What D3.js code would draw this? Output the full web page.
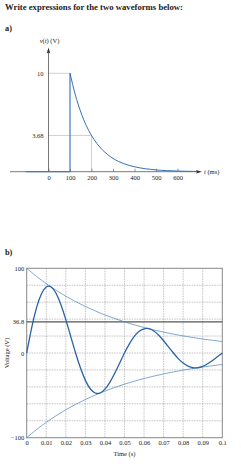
<!DOCTYPE html>
<html>
<head>
<meta charset="utf-8">
<script src="https://cdn.jsdelivr.net/npm/d3@7"></script>
<style>
  html, body { margin: 0; padding: 0; background: #fff; }
  svg { display: block; }
  text { font-family: "Liberation Serif", "DejaVu Serif", serif; fill: #222; }
</style>
</head>
<body>
<svg id="chart" width="241" height="467"></svg>
<script>
// ---------- Data: part a ----------
const stepTimeA = [-105, 100, 100];
const stepValueA = [0, 0, 10];
const decayTimeA = [100,125,150,175,200,225,250,275,300,325,350,375,400,425,450,475,500,525,550,575,600,625,650,675,690];
const decayValueA = [10,7.79,6.07,4.72,3.68,2.87,2.23,1.74,1.35,1.05,0.82,0.64,0.50,0.39,0.30,0.24,0.18,0.14,0.11,0.09,0.07,0.05,0.04,0.03,0.02];
const xTicksA = [0,100,200,300,400,500,600];
const yTicksA = [10, 3.68];
const yTickLabelsA = ["10", "3.68"];

// ---------- Data: part b ----------
const timeB = [0,0.0025,0.005,0.0075,0.01,0.0125,0.015,0.0175,0.02,0.0225,0.025,0.0275,0.03,0.0325,0.035,0.0375,0.04,0.0425,0.045,0.0475,0.05,0.0525,0.055,0.0575,0.06,0.0625,0.065,0.0675,0.07,0.0725,0.075,0.0775,0.08,0.0825,0.085,0.0875,0.09,0.0925,0.095,0.0975,0.1];
const voltageB = [0,29.4,53.2,69.6,77.9,77.9,70.5,57.0,39.4,19.7,0,-17.8,-32.3,-42.2,-47.2,-47.2,-42.7,-34.6,-23.9,-12.0,0,10.8,19.6,25.6,28.6,28.7,25.9,21.0,14.5,7.2,0,-6.6,-11.9,-15.5,-17.4,-17.4,-15.7,-12.7,-8.8,-4.4,0];
const envTimeB = [0,0.005,0.01,0.015,0.02,0.025,0.03,0.035,0.04,0.045,0.05,0.055,0.06,0.065,0.07,0.075,0.08,0.085,0.09,0.095,0.1];
const envUpperB = [100,90.5,81.9,74.1,67.0,60.7,54.9,49.7,44.9,40.7,36.8,33.3,30.1,27.3,24.7,22.3,20.2,18.3,16.5,15.0,13.5];
const envLowerB = [-100,-90.5,-81.9,-74.1,-67.0,-60.7,-54.9,-49.7,-44.9,-40.7,-36.8,-33.3,-30.1,-27.3,-24.7,-22.3,-20.2,-18.3,-16.5,-15.0,-13.5];
const xTicksB = [0,0.01,0.02,0.03,0.04,0.05,0.06,0.07,0.08,0.09,0.1];
const xTickLabelsB = ["0","0.01","0.02","0.03","0.04","0.05","0.06","0.07","0.08","0.09","0.1"];
const yTicksB = [100, 36.8, 0, -100];
const yTickLabelsB = ["100", "36.8", "0", "\u2212100"];
const yGridB = [80,60,40,20,0,-20,-40,-60,-80];

const svg = d3.select("#chart");
svg.append("rect").attr("width", 241).attr("height", 467).attr("fill", "#fff");

// ---------- Headings ----------
svg.append("text").attr("x", 5).attr("y", 9.5)
  .attr("font-size", 8.3).attr("font-weight", "bold").attr("fill", "#111")
  .attr("textLength", 178).attr("lengthAdjust", "spacingAndGlyphs")
  .text("Write expressions for the two waveforms below:");
svg.append("text").attr("x", 5).attr("y", 31).attr("font-size", 8.3)
  .attr("font-weight", "bold").attr("fill", "#111").text("a)");
svg.append("text").attr("x", 5).attr("y", 255).attr("font-size", 8.3)
  .attr("font-weight", "bold").attr("fill", "#1a1a50").text("b)");

// ---------- Part a ----------
const xA = d3.scaleLinear().domain([0, 600]).range([48.5, 177.5]);
const yA = d3.scaleLinear().domain([0, 10]).range([171.7, 73.3]);
const gA = svg.append("g");
const axisCol = "#555";

// dotted guides
const guide = (x1, y1, x2, y2) => gA.append("line")
  .attr("x1", x1).attr("y1", y1).attr("x2", x2).attr("y2", y2)
  .attr("stroke", "#666").attr("stroke-width", 0.6).attr("stroke-dasharray", "1,1");
guide(xA(0), yA(10), xA(100), yA(10));
guide(xA(0), yA(3.68), xA(200), yA(3.68));
guide(xA(200), yA(3.68), xA(200), yA(0));

// x axis (ticks via d3 axis)
const axA = d3.axisBottom(xA).tickValues(xTicksA).tickSize(-3).tickPadding(4)
  .tickFormat(d3.format("d"));
const gxA = gA.append("g").attr("transform", `translate(0,${yA(0)})`).call(axA);
gxA.select(".domain").remove();
gxA.selectAll(".tick line").attr("stroke", axisCol).attr("stroke-width", 0.6);
gxA.selectAll(".tick text").attr("font-size", 6.5).attr("font-family", "Liberation Serif, serif").attr("fill", "#333");
gA.append("line").attr("x1", 10).attr("x2", 199).attr("y1", yA(0)).attr("y2", yA(0))
  .attr("stroke", axisCol).attr("stroke-width", 0.8);
gA.append("path").attr("d", `M202,${yA(0)} L196,${yA(0)-1.8} L197,${yA(0)} L196,${yA(0)+1.8} Z`).attr("fill", "#333");

// y axis
const ayA = d3.axisLeft(yA).tickValues(yTicksA).tickSize(0).tickPadding(5)
  .tickFormat((d, i) => yTickLabelsA[i]);
const gyA = gA.append("g").attr("transform", `translate(${xA(0)},0)`).call(ayA);
gyA.select(".domain").remove();
gyA.selectAll(".tick text").attr("font-size", 6.5).attr("font-family", "Liberation Serif, serif").attr("fill", "#333");
gA.append("line").attr("x1", xA(0)).attr("x2", xA(0)).attr("y1", yA(0)).attr("y2", 50)
  .attr("stroke", axisCol).attr("stroke-width", 0.8);
gA.append("path").attr("d", `M${xA(0)},47.5 L${xA(0)-1.8},53.5 L${xA(0)},52.5 L${xA(0)+1.8},53.5 Z`).attr("fill", "#333");

// axis labels
const vl = gA.append("text").attr("x", xA(0) + 1).attr("y", 42.5).attr("text-anchor", "middle")
  .attr("font-size", 6.5).attr("fill", "#333");
vl.append("tspan").attr("font-style", "italic").text("v");
vl.append("tspan").text("(");
vl.append("tspan").attr("font-style", "italic").text("t");
vl.append("tspan").text(") (V)");
const tl = gA.append("text").attr("x", 204).attr("y", yA(0) + 2.2)
  .attr("font-size", 6.5).attr("fill", "#333");
tl.append("tspan").attr("font-style", "italic").text("t");
tl.append("tspan").text(" (ms)");

// signal
const blueA = "#3470b8";
const stepData = stepTimeA.map((t, i) => [t, stepValueA[i]]);
const decayData = decayTimeA.map((t, i) => [t, decayValueA[i]]);
gA.append("path").datum(stepData)
  .attr("d", d3.line().x(d => xA(d[0])).y(d => yA(d[1])))
  .attr("fill", "none").attr("stroke", blueA).attr("stroke-width", 1.1);
gA.append("path").datum(decayData)
  .attr("d", d3.line().x(d => xA(d[0])).y(d => yA(d[1])).curve(d3.curveMonotoneX))
  .attr("fill", "none").attr("stroke", blueA).attr("stroke-width", 1.0);

// ---------- Part b ----------
const xB = d3.scaleLinear().domain([0, 0.1]).range([26.7, 222.3]);
const yB = d3.scaleLinear().domain([-100, 100]).range([437.7, 268.3]);
const gB = svg.append("g");

// grid
gB.selectAll("line.vg").data(xTicksB.slice(1, -1)).enter().append("line")
  .attr("x1", d => xB(d)).attr("x2", d => xB(d)).attr("y1", yB(100)).attr("y2", yB(-100))
  .attr("stroke", "#999").attr("stroke-width", 0.6).attr("stroke-dasharray", "1.5,1");
gB.selectAll("line.hg").data(yGridB).enter().append("line")
  .attr("x1", xB(0)).attr("x2", xB(0.1)).attr("y1", d => yB(d)).attr("y2", d => yB(d))
  .attr("stroke", "#999").attr("stroke-width", 0.6).attr("stroke-dasharray", "1.5,1");

// frame
gB.append("rect").attr("x", xB(0)).attr("y", yB(100))
  .attr("width", xB(0.1) - xB(0)).attr("height", yB(-100) - yB(100))
  .attr("fill", "none").attr("stroke", "#888").attr("stroke-width", 1);

// 36.8 line
gB.append("line").attr("x1", xB(0)).attr("x2", xB(0.1)).attr("y1", yB(36.8)).attr("y2", yB(36.8))
  .attr("stroke", "#555").attr("stroke-width", 1.3);

// axes labels
const axB = d3.axisBottom(xB).tickValues(xTicksB).tickSize(0).tickPadding(3)
  .tickFormat((d, i) => xTickLabelsB[i]);
const gxB = gB.append("g").attr("transform", `translate(0,${yB(-100)})`).call(axB);
gxB.select(".domain").remove();
gxB.selectAll(".tick text").attr("font-size", 6.5).attr("font-family", "Liberation Serif, serif").attr("fill", "#333");

const ayB = d3.axisLeft(yB).tickValues(yTicksB).tickSize(0).tickPadding(2.5)
  .tickFormat((d, i) => yTickLabelsB[i]);
const gyB = gB.append("g").attr("transform", `translate(${xB(0)},0)`).call(ayB);
gyB.select(".domain").remove();
gyB.selectAll(".tick text").attr("font-size", 6.5).attr("font-family", "Liberation Serif, serif").attr("fill", "#333");

gB.append("text").attr("x", (xB(0) + xB(0.1)) / 2).attr("y", 455.5).attr("text-anchor", "middle")
  .attr("font-size", 6.5).attr("fill", "#333").text("Time (s)");
gB.append("text").attr("transform", `translate(9,${yB(0)}) rotate(-90)`).attr("text-anchor", "middle")
  .attr("font-size", 6.5).attr("fill", "#333").text("Voltage (V)");

// envelopes
const envLine = d3.line().x(d => xB(d[0])).y(d => yB(d[1])).curve(d3.curveMonotoneX);
gB.append("path").datum(envTimeB.map((t, i) => [t, envUpperB[i]]))
  .attr("d", envLine).attr("fill", "none").attr("stroke", "#4f82bf").attr("stroke-width", 0.7);
gB.append("path").datum(envTimeB.map((t, i) => [t, envLowerB[i]]))
  .attr("d", envLine).attr("fill", "none").attr("stroke", "#4f82bf").attr("stroke-width", 0.7);

// main signal
gB.append("path").datum(timeB.map((t, i) => [t, voltageB[i]]))
  .attr("d", d3.line().x(d => xB(d[0])).y(d => yB(d[1])).curve(d3.curveNatural))
  .attr("fill", "none").attr("stroke", "#2a62a6").attr("stroke-width", 1.3);
</script>
</body>
</html>
